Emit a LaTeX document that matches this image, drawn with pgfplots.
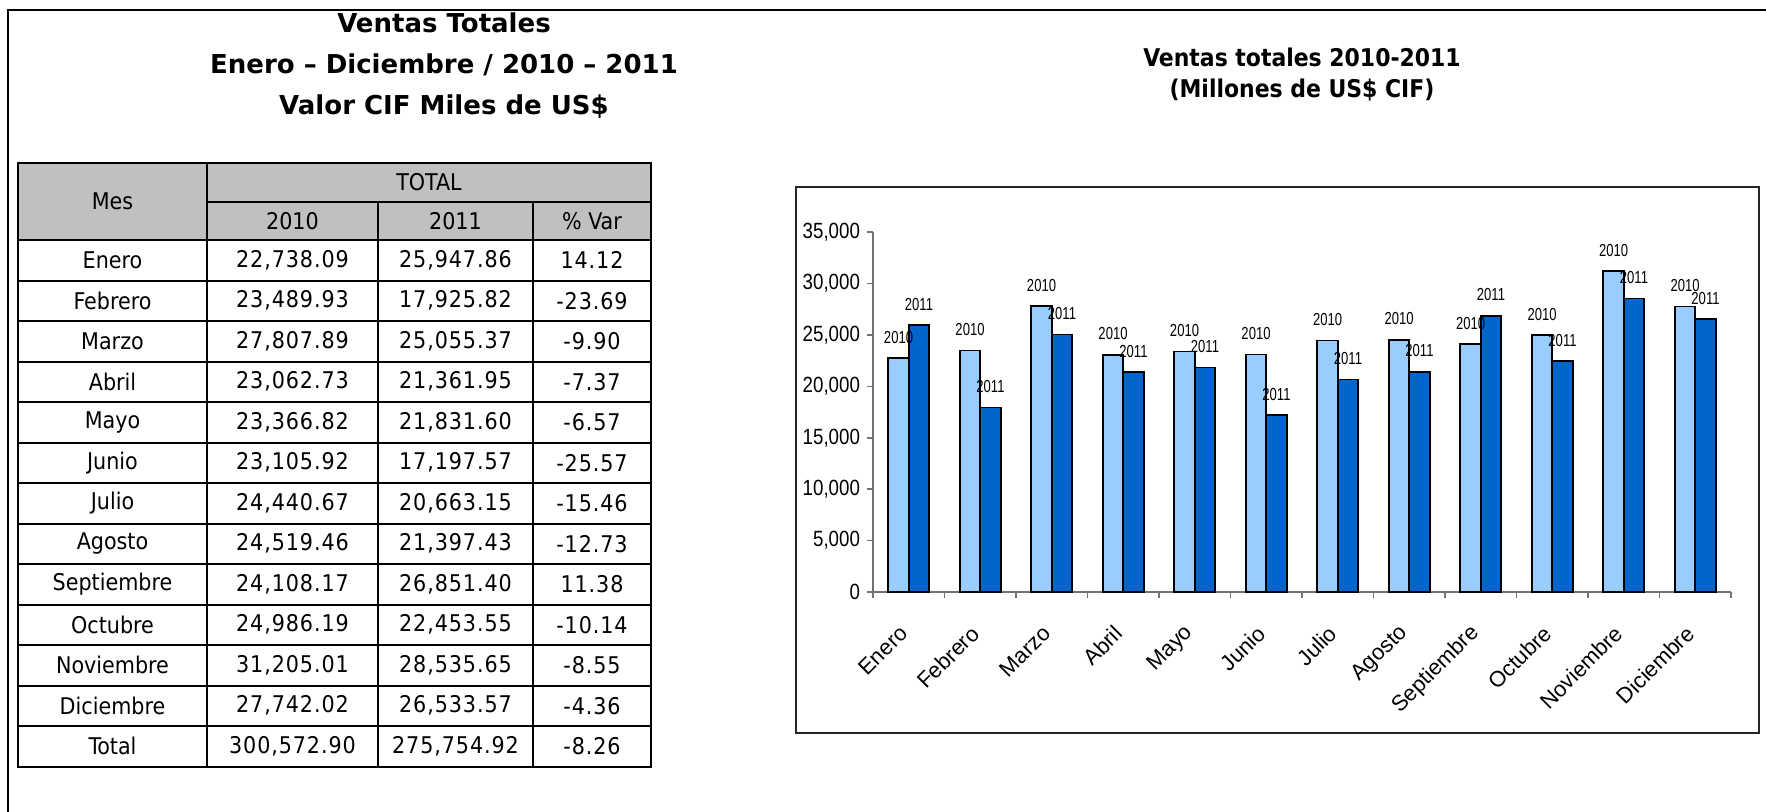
\documentclass[border=0pt]{standalone}
\usepackage{pgfplots}
\pgfplotsset{compat=1.18}
\usepackage{fontspec}
\setmainfont{Liberation Sans}
\newfontfamily\tabfont{DejaVu Sans Condensed}
\newfontfamily\numfont[LetterSpace=4]{DejaVu Sans Condensed}
\newfontfamily\widefont{DejaVu Sans}
\newfontfamily\narrowfont[FakeStretch=0.75]{Liberation Sans}
\newfontfamily\tickfont[FakeStretch=0.85]{Liberation Sans}
\definecolor{light}{HTML}{99CCFF}
\definecolor{dark}{HTML}{0066CC}
\definecolor{hdr}{HTML}{C0C0C0}

\begin{document}
\begin{tikzpicture}
% layout in pixels of the reference: 1 px = 0.5pt, y downwards
\begin{scope}[x=0.5pt,y=-0.5pt]
\useasboundingbox (0,0) rectangle (1766,811);
\draw[line width=1.25pt] (8,1000) -- (8,10) -- (2000,10);

% left title
\node[font=\widefont\bfseries\fontsize{13}{20.5}\selectfont, align=center] at (444,66)
  {Ventas Totales\\Enero – Diciembre / 2010 – 2011\\Valor CIF Miles de US\$};

% table
\fill[hdr] (18,163) rectangle (651,240);
\draw[line width=1pt] (18,163) rectangle (651,766.5);
\draw[line width=1pt] (207,163) -- (207,766.5);
\draw[line width=1pt] (207,202) -- (651,202);
\draw[line width=1pt] (378,202) -- (378,766.5);
\draw[line width=1pt] (533,202) -- (533,766.5);
\foreach \i in {0,...,12} \draw[line width=1pt] (18,240+40.5*\i) -- (651,240+40.5*\i);
\begin{scope}[every node/.style={font=\tabfont\fontsize{11.5}{13}\selectfont}]
\node at (112.5,201.5) {Mes};
\node at (429,182.5) {TOTAL};
\node at (292.5,221) {2010};
\node at (455.5,221) {2011};
\node at (592,221) {\% Var};
\foreach \m/\a/\b/\c [count=\i from 0] in {
  Enero/{22,738.09}/{25,947.86}/14.12,
  Febrero/{23,489.93}/{17,925.82}/-23.69,
  Marzo/{27,807.89}/{25,055.37}/-9.90,
  Abril/{23,062.73}/{21,361.95}/-7.37,
  Mayo/{23,366.82}/{21,831.60}/-6.57,
  Junio/{23,105.92}/{17,197.57}/-25.57,
  Julio/{24,440.67}/{20,663.15}/-15.46,
  Agosto/{24,519.46}/{21,397.43}/-12.73,
  Septiembre/{24,108.17}/{26,851.40}/11.38,
  Octubre/{24,986.19}/{22,453.55}/-10.14,
  Noviembre/{31,205.01}/{28,535.65}/-8.55,
  Diciembre/{27,742.02}/{26,533.57}/-4.36,
  Total/{300,572.90}/{275,754.92}/-8.26}{
  \node at (112.5,260.25+40.5*\i) {\m};
  \node[font=\numfont\fontsize{11.5}{13}\selectfont] at (292.5,260.25+40.5*\i) {\a};
  \node[font=\numfont\fontsize{11.5}{13}\selectfont] at (455.5,260.25+40.5*\i) {\b};
  \node[font=\numfont\fontsize{11.5}{13}\selectfont] at (592,260.25+40.5*\i) {\c};
}
\end{scope}

% right title and chart frame
\node[font=\tabfont\bfseries\fontsize{12.2}{15.5}\selectfont, align=center] at (1302,75)
  {Ventas totales 2010-2011\\(Millones de US\$ CIF)};
\draw[line width=1pt, black!85] (796,187) rectangle (1759,733);
\end{scope}

\begin{axis}[
    at={(436.5pt,-296pt)}, anchor=south west,
    scale only axis, width=429pt, height=180pt,
    xmin=-0.5, xmax=11.5, ymin=0, ymax=35000,
    axis x line*=bottom, axis y line*=left,
    axis line style={black!55, line width=0.8pt},
    tick align=outside, major tick length=3pt,
    tick style={black!55, line width=0.8pt},
    ytick={0,5000,...,35000},
    scaled y ticks=false,
    yticklabel style={font=\tickfont\fontsize{11}{13}\selectfont,
      /pgf/number format/assume math mode=true,
      /pgf/number format/1000 sep={,}},
    xtick={-0.5,0.5,...,11.5}, xticklabel=\empty,
    extra x ticks={0,...,11},
    extra x tick labels={Enero,Febrero,Marzo,Abril,Mayo,Junio,Julio,Agosto,Septiembre,Octubre,Noviembre,Diciembre},
    extra x tick style={major tick length=0pt,
      tick label style={font=\fontsize{11}{13}\selectfont, rotate=45, anchor=east, yshift=-11.6pt, xshift=-11.6pt}},
    ybar=0pt, bar width=10.25pt,
    nodes near coords style={font=\narrowfont\fontsize{8.7}{10}\selectfont, inner sep=0pt, anchor=south, yshift=7pt},
    clip=false,
]
\addplot[fill=light, draw=black, line width=0.8pt, nodes near coords={2010}] coordinates {
  (0,22738.09) (1,23489.93) (2,27807.89) (3,23062.73) (4,23366.82) (5,23105.92)
  (6,24440.67) (7,24519.46) (8,24108.17) (9,24986.19) (10,31205.01) (11,27742.02)};
\addplot[fill=dark, draw=black, line width=0.8pt, nodes near coords={2011}] coordinates {
  (0,25947.86) (1,17925.82) (2,25055.37) (3,21361.95) (4,21831.60) (5,17197.57)
  (6,20663.15) (7,21397.43) (8,26851.40) (9,22453.55) (10,28535.65) (11,26533.57)};
\end{axis}
\end{tikzpicture}
\end{document}
